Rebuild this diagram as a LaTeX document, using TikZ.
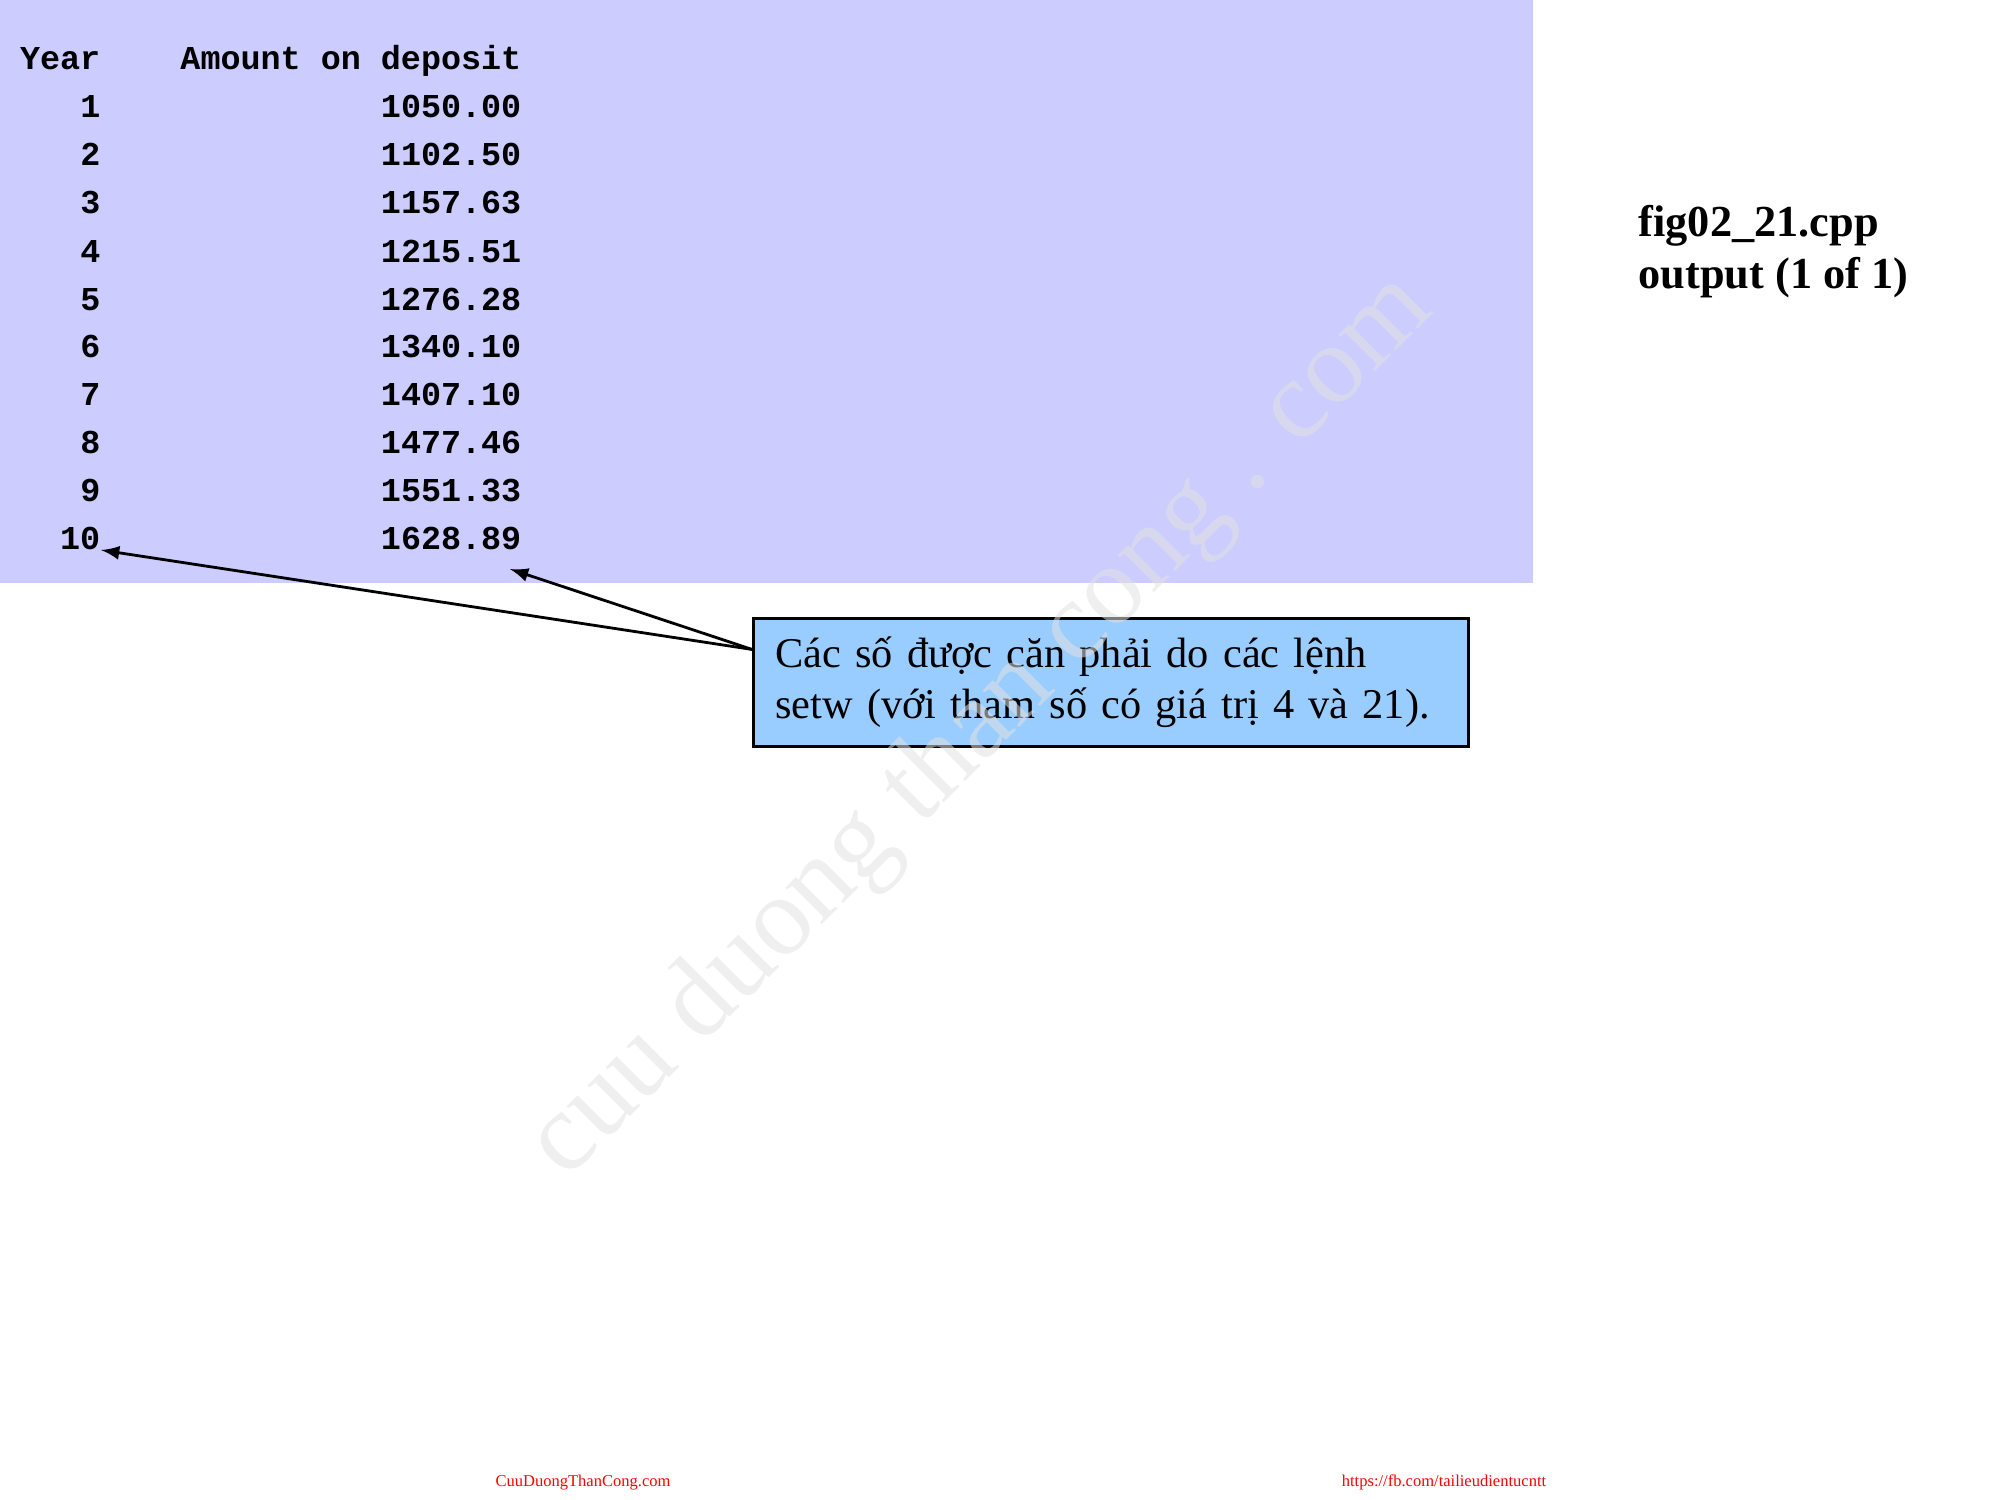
\documentclass[tikz,border=0pt]{standalone}
\usepackage{fontspec}
\setmainfont{Liberation Serif}
\setmonofont{Liberation Mono}
\usetikzlibrary{arrows}
\definecolor{tablebg}{HTML}{CCCCFF}
\definecolor{notebg}{HTML}{99CCFF}
\definecolor{markgray}{HTML}{E1E1E1}
\tikzset{
  cell/.style={anchor=base east, inner sep=0pt, font=\ttfamily\bfseries\fontsize{9.5}{11}\selectfont},
  title/.style={anchor=base west, inner sep=0pt, font=\bfseries\fontsize{12.6}{14.5}\selectfont},
  notebox/.style={draw=black, line width=0.8pt, fill=notebg, anchor=north west, align=left,
    text width=6.71cm, inner xsep=0.22cm, minimum height=1.28cm, font=\fontsize{12.05}{14.5}\selectfont},
  pointer/.style={-latex, line width=0.8pt},
  footer/.style={anchor=base, inner sep=0pt, text=red, font=\fontsize{4.7}{5.5}\selectfont}
}
\begin{document}
\begin{tikzpicture}[x=0.01cm,y=-0.01cm]
    \useasboundingbox (0,0) rectangle (2000,1500);
    \fill[tablebg] (0,0) rectangle (1533,583);

    % program output
    \node[cell] (hy) at (101,70) {Year};
    \node[cell] (ha) at (522,70) {Amount on deposit};
    \node[cell] (y1) at (101,118) {1};
    \node[cell] (a1) at (522,118) {1050.00};
    \node[cell] (y2) at (101,166) {2};
    \node[cell] (a2) at (522,166) {1102.50};
    \node[cell] (y3) at (101,214) {3};
    \node[cell] (a3) at (522,214) {1157.63};
    \node[cell] (y4) at (101,262) {4};
    \node[cell] (a4) at (522,262) {1215.51};
    \node[cell] (y5) at (101,310) {5};
    \node[cell] (a5) at (522,310) {1276.28};
    \node[cell] (y6) at (101,357) {6};
    \node[cell] (a6) at (522,357) {1340.10};
    \node[cell] (y7) at (101,405) {7};
    \node[cell] (a7) at (522,405) {1407.10};
    \node[cell] (y8) at (101,453) {8};
    \node[cell] (a8) at (522,453) {1477.46};
    \node[cell] (y9) at (101,501) {9};
    \node[cell] (a9) at (522,501) {1551.33};
    \node[cell] (y10) at (101,549) {10};
    \node[cell] (a10) at (522,549) {1628.89};

    \node[title] (fig) at (1638,237) {fig02\_21.cpp};
    \node[title] (out) at (1638,288) {output (1 of 1)};

    % callout
    \node[notebox] (note) at (752,617) {Các số được căn phải do các lệnh\\setw (với tham số có giá trị 4 và 21).};
    \draw[pointer] ([yshift=0.33cm]note.west) -- (y10.south east);
    \draw[pointer] ([yshift=0.33cm]note.west) -- ([xshift=-0.12cm,yshift=-0.19cm]a10.south east);

    % watermark
    \node[rotate=45, text=markgray, opacity=0.55, font=\fontsize{32}{36}\selectfont] (mark) at (982,727) {cuu duong than cong . com};

    \node[footer] (site) at (583,1486) {CuuDuongThanCong.com};
    \node[footer] (fb) at (1444,1486) {https://fb.com/tailieudientucntt};
\end{tikzpicture}
\end{document}
